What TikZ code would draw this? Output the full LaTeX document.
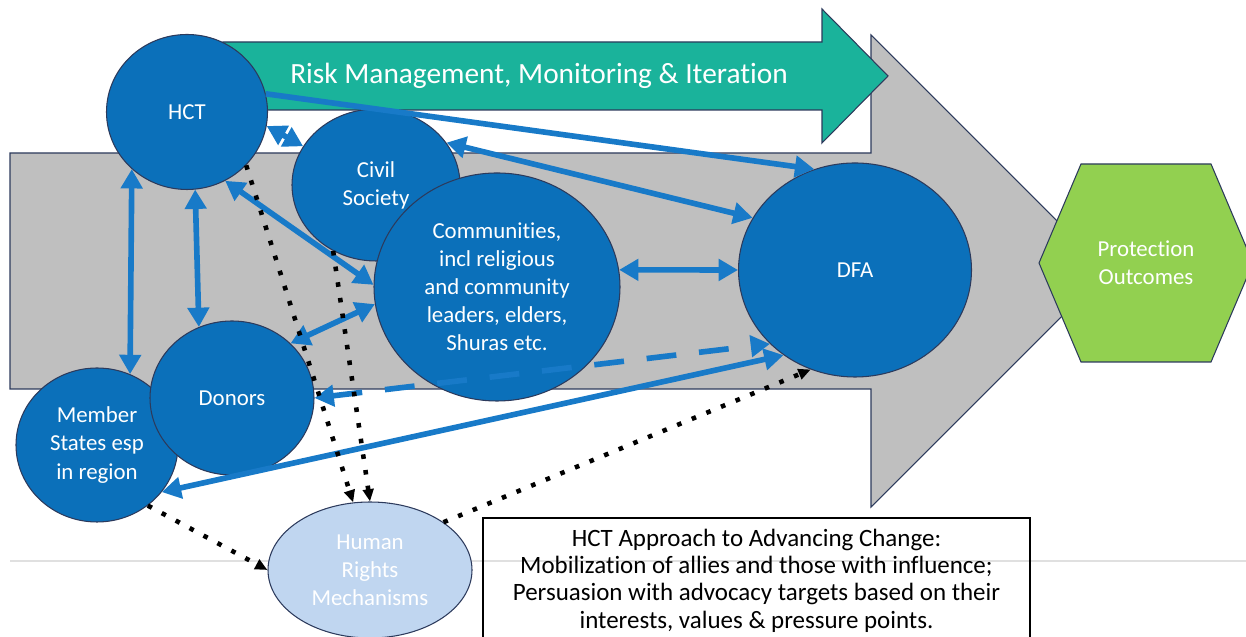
\documentclass[tikz,border=0pt]{standalone}
\usepackage{fontspec}
\setmainfont{Carlito}[Ligatures=NoCommon]
\usetikzlibrary{arrows.meta,shapes.geometric}

\definecolor{actorblue}{RGB}{11,112,186}
\definecolor{linkblue}{RGB}{24,122,200}
\definecolor{rimnavy}{RGB}{44,58,92}
\definecolor{bodygray}{RGB}{191,191,191}
\definecolor{riskteal}{RGB}{26,179,155}
\definecolor{outcomegreen}{RGB}{146,208,80}
\definecolor{rightsblue}{RGB}{192,214,240}

\begin{document}
\begin{tikzpicture}[x=1cm,y=1cm,font=\fontsize{13}{16}\selectfont,
    >={Triangle[length=11pt,width=12pt]},
    actor/.style={ellipse,draw=rimnavy,line width=0.6pt,fill=actorblue,
        text=white,align=center,inner sep=0pt},
    link/.style={line width=3.2pt,draw=linkblue},
    hint/.style={-{Triangle[length=7pt,width=6pt]},line width=2.6pt,
        dash pattern=on 2.6pt off 6.4pt}]
    \useasboundingbox (0,0) rectangle (24.92,12.74);

    % thin rule across the lower part
    \draw[black!12,line width=1pt] (0.20,1.52) -- (24.92,1.52);

    % large grey arrow behind everything
    \draw[rimnavy,line width=0.6pt,fill=bodygray]
        (0.20,9.68) -- (17.42,9.68) -- (17.42,12.04) -- (22.14,7.32)
        -- (17.42,2.60) -- (17.42,4.96) -- (0.20,4.96) -- cycle;

    % teal arrow on top
    \draw[rimnavy,line width=0.6pt,fill=riskteal]
        (4.46,11.90) -- (16.44,11.90) -- (16.44,12.56) -- (17.76,11.22)
        -- (16.44,9.88) -- (16.44,10.54) -- (4.46,10.54) -- cycle;
    \node[text=white,font=\fontsize{16.7}{20}\selectfont] (risk) at (10.78,11.22)
        {Risk Management, Monitoring \& Iteration};

    % actors
    \node[actor,minimum width=3.22cm,minimum height=3.10cm] (hct) at (3.74,10.50)
        {HCT};
    \node[actor,minimum width=3.36cm,minimum height=3.04cm] (civil) at (7.52,9.04)
        {Civil\\Society};
    \node[actor,minimum width=4.92cm,minimum height=4.56cm] (comm) at (9.94,7.00)
        {Communities,\\incl religious\\and community\\leaders, elders,\\Shuras etc.};
    \node[actor,minimum width=4.66cm,minimum height=4.28cm] (dfa) at (17.10,7.34)
        {DFA};
    \node[actor,minimum width=3.24cm,minimum height=3.08cm] (states) at (1.94,3.84)
        {Member\\States esp\\in region};
    \node[actor,minimum width=3.28cm,minimum height=3.08cm] (donors) at (4.64,4.78)
        {Donors};
    \node[actor,fill=rightsblue,minimum width=4.08cm,minimum height=2.72cm]
        (hrm) at (7.40,1.34) {Human\\Rights\\Mechanisms};

    % outcome hexagon
    \draw[rimnavy,line width=0.6pt,fill=outcomegreen]
        (21.62,9.46) -- (24.22,9.46) -- (25.06,7.48) -- (24.22,5.50)
        -- (21.62,5.50) -- (20.78,7.48) -- cycle;
    \node[text=white,align=center] (outcome) at (22.92,7.48)
        {Protection\\Outcomes};

    % approach box
    \node[draw=black,line width=0.9pt,minimum width=10.94cm,minimum height=2.5cm,
        align=center,font=\fontsize{14.2}{15.6}\selectfont] (approach) at (15.13,1.13)
        {HCT Approach to Advancing Change:\\
         Mobilization of allies and those with influence;\\
         Persuasion with advocacy targets based on their\\
         interests, values \& pressure points.};

    % relationships
    \draw[link,<->] (hct.-10) -- (civil.152);
    \draw[link,->] (hct.13) -- (dfa.112);
    \draw[link,<->] (civil.31) -- (dfa.153);
    \draw[link,<->] (hct.-61) -- (comm.179);
    \draw[link,<->] (donors.43) -- (comm.188);
    \draw[link,<->] (hct.-84) -- (donors.115);
    \draw[link,<->] (hct.-134) -- (states.65);
    \draw[link,<->] (comm.8) -- (dfa.180);
    \draw[link,<->,dash pattern=on 17pt off 13pt] (donors.0) -- (dfa.221);
    \draw[link,<->] (states.-36) -- (dfa.230);

    % dotted routes to the rights mechanisms
    \draw[hint] (hct.-42) -- (hrm.104);
    \draw[hint] (civil.-123) -- (hrm.90);
    \draw[hint] (states.-50) -- (hrm.180);
    \draw[hint] (hrm.33) -- (dfa.-114);
\end{tikzpicture}
\end{document}
